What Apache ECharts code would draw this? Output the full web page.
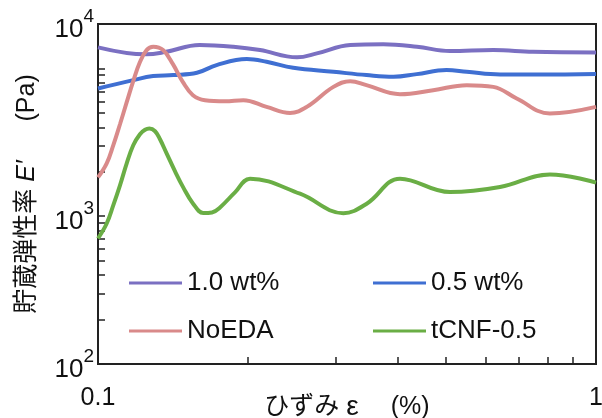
<!DOCTYPE html>
<html>
<head>
<meta charset="utf-8">
<script src="https://cdn.jsdelivr.net/npm/echarts@6/dist/echarts.min.js"></script>
<style>
html,body{margin:0;padding:0;background:#fff;}
#c{width:602px;height:418px;}
</style>
</head>
<body>
<div id="c"></div>
<script>
// ---- data ----
const seriesNames = ['1.0 wt%', '0.5 wt%', 'NoEDA', 'tCNF-0.5'];

const strain1 = [0.1, 0.125, 0.137, 0.160, 0.187, 0.2115, 0.251, 0.275, 0.321, 0.374, 0.437, 0.509, 0.622, 0.747, 1.0];
const modulus1 = [13900, 12460, 12970, 14410, 14030, 13320, 11890, 12650, 14410, 14570, 14030, 13110, 13320, 12970, 12850];

const strain2 = [0.1, 0.1177, 0.129, 0.1416, 0.158, 0.173, 0.199, 0.218, 0.2467, 0.297, 0.346, 0.392, 0.4365, 0.501, 0.55, 0.642, 0.808, 1.0];
const modulus2 = [7320, 8340, 8880, 9020, 9350, 10540, 11580, 11100, 10100, 9500, 9020, 8780, 9160, 9750, 9500, 9110, 9110, 9160];

const strain3 = [0.1, 0.1041, 0.1073, 0.1107, 0.1142, 0.1177, 0.1214, 0.1252, 0.1291, 0.1351, 0.1414, 0.1481, 0.1551, 0.164, 0.1799, 0.1958, 0.218, 0.243, 0.2625, 0.297, 0.321, 0.346, 0.404, 0.471, 0.55, 0.622, 0.693, 0.808, 1.0];
const modulus3 = [1832, 2280, 3020, 4195, 5913, 8210, 11050, 13320, 14030, 13320, 10700, 8080, 6595, 6100, 6005, 6100, 5495, 5005, 5495, 7510, 8210, 7715, 6700, 7130, 7715, 7510, 6265, 4960, 5495];

const strain4 = [0.1, 0.1041, 0.1073, 0.1107, 0.1142, 0.1177, 0.1214, 0.1243, 0.1268, 0.1302, 0.1332, 0.1374, 0.1428, 0.1483, 0.1551, 0.1627, 0.1694, 0.1758, 0.1884, 0.202, 0.2545, 0.311, 0.3464, 0.4041, 0.5091, 0.6416, 0.8082, 1.0];
const modulus4 = [707, 893, 1183, 1617, 2280, 3021, 3587, 3848, 3922, 3759, 3318, 2653, 2012, 1568, 1221, 1052, 1061, 1147, 1450, 1796, 1420, 1049, 1215, 1796, 1457, 1575, 1920, 1687];

const colors = ['#7b70c2', '#3f6fd2', '#d98a8a', '#6aae45'];

// axis tick labels
const yLabelValues = [100, 1000, 20000];
const yLabelExps = ['2', '3', '4'];
const yTickValues = [100, 200, 300, 400, 500, 600, 700, 800, 900, 1000, 2000, 3000, 4000, 5000, 6000, 7000, 8000, 9000, 10000];
const xTickValues = [0.1, 0.2, 0.3, 0.4, 0.5, 0.6, 0.7, 0.8, 0.9, 1];
const xLabelValues = [0.1, 1];
const xLabelTexts = ['0.1', '1'];

const strains = [strain1, strain2, strain3, strain4];
const moduli = [modulus1, modulus2, modulus3, modulus4];

const FONT = '"Liberation Sans", Arial, "Noto Sans CJK JP", sans-serif';

function pairs(xs, ys) { return xs.map((x, i) => [x, ys[i]]); }

const series = seriesNames.map((name, i) => ({
  name: name,
  type: 'line',
  smooth: 0.4,
  symbol: 'none',
  data: pairs(strains[i], moduli[i]),
  lineStyle: { color: colors[i], width: 4 },
  itemStyle: { color: colors[i] },
  z: 3
}));

const legendPos = [[129, 270], [373, 270], [129, 318], [373, 318]];
const legends = seriesNames.map((name, i) => ({
  data: [name],
  left: legendPos[i][0],
  top: legendPos[i][1],
  padding: 0,
  icon: 'rect',
  itemWidth: 53,
  itemHeight: 3,
  textStyle: { fontSize: 26, fontFamily: FONT, color: '#111' },
  selectedMode: false
}));

function near(a, b) { return Math.abs(Math.log10(a) - Math.log10(b)) < 0.01; }

const chart = echarts.init(document.getElementById('c'), null, { renderer: 'canvas' });
chart.setOption({
  animation: false,
  backgroundColor: '#fff',
  grid: { left: 98, right: 6, top: 24, bottom: 54, outerBoundsMode: 'none', containLabel: false, show: true, borderColor: '#222', borderWidth: 2, backgroundColor: 'transparent' },
  legend: legends,
  xAxis: {
    type: 'log', logBase: 10, min: 0.1, max: 1,
    axisLine: { lineStyle: { color: '#222', width: 2 } },
    axisTick: { inside: true, length: 7, lineStyle: { color: '#222', width: 1.5 }, customValues: xTickValues },
    splitLine: { show: false },
    axisLabel: {
      margin: 22, fontSize: 25, fontFamily: FONT, color: '#111',
      customValues: xLabelValues,
      formatter: function (v) {
        for (let i = 0; i < xLabelValues.length; i++) if (near(v, xLabelValues[i])) return xLabelTexts[i];
        return '';
      }
    },
    name: 'ひずみ {e|ε}\u3000 (%)',
    nameLocation: 'middle',
    nameGap: 29,
    nameMoveOverlap: false,
    nameTextStyle: {
      fontSize: 25, fontFamily: FONT, color: '#111',
      rich: { e: { fontSize: 28, fontFamily: FONT, color: '#111' } }
    }
  },
  yAxis: {
    type: 'log', logBase: 10, min: 100, max: 20000,
    axisLine: { lineStyle: { color: '#222', width: 2 } },
    axisTick: { inside: true, length: 7, lineStyle: { color: '#222', width: 1.5 }, customValues: yTickValues },
    splitLine: { show: false },
    axisLabel: {
      margin: 4, fontFamily: FONT, color: '#111',
      padding: [12, 0, 0, 0],
      customValues: yLabelValues,
      formatter: function (v) {
        for (let i = 0; i < yLabelValues.length; i++) if (near(v, yLabelValues[i])) return '{b|10}{s|' + yLabelExps[i] + '}';
        return '';
      },
      rich: {
        b: { fontSize: 26, fontFamily: FONT, color: '#111', verticalAlign: 'bottom', lineHeight: 26 },
        s: { fontSize: 19, fontFamily: FONT, color: '#111', verticalAlign: 'bottom', lineHeight: 19, padding: [0, 0, 17, 0] }
      }
    },
    name: '貯蔵弾性率 {i|E′}\u3000  (Pa)',
    nameLocation: 'middle',
    nameGap: 58,
    nameMoveOverlap: false,
    nameTextStyle: {
      fontSize: 25, fontFamily: FONT, color: '#111',
      rich: { i: { fontSize: 25, fontStyle: 'italic', fontFamily: FONT, color: '#111' } }
    }
  },
  series: series
});
</script>
</body>
</html>
